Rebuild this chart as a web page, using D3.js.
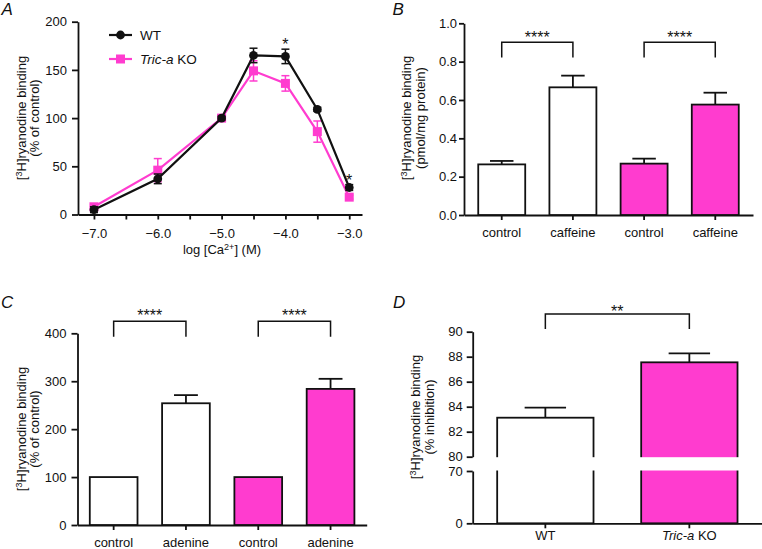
<!DOCTYPE html>
<html><head><meta charset="utf-8">
<script src="https://cdn.jsdelivr.net/npm/d3@7"></script>
<style>
body{margin:0;background:#fff;}
svg{display:block;font-family:"Liberation Sans",Arial,Helvetica,sans-serif;}
</style></head><body>
<svg id="c" width="762" height="549"></svg>
<script>
// ---------- Panel A data ----------
const caConc = [-7, -6, -5, -4.5, -4, -3.5, -3];
const wtBinding = [5, 37, 100, 165, 164, 109, 28];
const wtErr = [3, 5, 2, 7.5, 7.5, 2, 3];
const koBinding = [8, 46, 100, 149, 136, 86, 18];
const koErr = [2, 12, 3, 10.5, 8, 11, 2];
const aXTicks = [-7, -6.5, -6, -5.5, -5, -4.5, -4, -3.5, -3];
const aXLabelled = [-7, -6, -5, -4, -3];
const aYTicks = [0, 50, 100, 150, 200];
const aSigX = [-4, -3];
const seriesNames = ["WT", "Tric-a KO"];

// ---------- Panel B data ----------
const bCats = ["control", "caffeine", "control", "caffeine"];
const bGroup = ["WT", "WT", "KO", "KO"];
const bValues = [0.264, 0.666, 0.268, 0.576];
const bErr = [0.018, 0.061, 0.026, 0.062];
const bYTicks = [0, 0.2, 0.4, 0.6, 0.8, 1.0];
const bSig = [[0, 1, "****"], [2, 3, "****"]];

// ---------- Panel C data ----------
const cCats = ["control", "adenine", "control", "adenine"];
const cGroup = ["WT", "WT", "KO", "KO"];
const cValues = [100, 254, 100, 284];
const cErr = [0, 17, 0, 21];
const cYTicks = [0, 100, 200, 300, 400];
const cSig = [[0, 1, "****"], [2, 3, "****"]];

// ---------- Panel D data ----------
const dCats = ["WT", "Tric-a KO"];
const dGroup = ["WT", "KO"];
const dValues = [83.12, 87.55];
const dErr = [0.8, 0.72];
const dYTicksUpper = [80, 82, 84, 86, 88, 90];
const dYTicksLower = [0, 70];
const dSig = [[0, 1, "**"]];

const PINK = "#ff3ccf";
const INK = "#111";
const SW = 1.8;
const FS = 13;
const STAR_FS = 16;

const svg = d3.select("#c");

function styleAxis(g) {
  g.selectAll("path.domain").attr("stroke", INK).attr("stroke-width", SW);
  g.selectAll(".tick line").attr("stroke", INK).attr("stroke-width", SW);
  g.selectAll(".tick text").attr("fill", INK).style("font-size", FS + "px")
    .style("font-family", '"Liberation Sans",Arial,sans-serif');
}

function yLabel(g, x1, x2, cy, line2) {
  const t1 = g.append("text").attr("transform", `translate(${x1},${cy}) rotate(-90)`)
    .attr("text-anchor", "middle").attr("fill", INK).style("font-size", FS + "px");
  t1.append("tspan").text("[");
  t1.append("tspan").text("3").attr("dy", -4.5).style("font-size", "9px");
  t1.append("tspan").text("H]ryanodine binding").attr("dy", 4.5);
  g.append("text").attr("transform", `translate(${x2},${cy}) rotate(-90)`)
    .attr("text-anchor", "middle").attr("fill", INK).style("font-size", FS + "px").text(line2);
}

function panelLetter(x, y, s) {
  svg.append("text").attr("x", x).attr("y", y).text(s)
    .style("font-size", "17px").style("font-style", "italic").attr("fill", INK);
}

function italicTric(sel) {
  sel.each(function () {
    const t = d3.select(this);
    const s = t.text();
    if (s.indexOf("Tric-a") === 0) {
      t.text("");
      t.append("tspan").text("Tric-a").style("font-style", "italic");
      t.append("tspan").text(s.slice(6));
    }
  });
}

// ================= Panel A =================
(function () {
  const g = svg.append("g");
  const x = d3.scaleLinear().domain([-7.25, -2.8]).range([78, 362]);
  const y = d3.scaleLinear().domain([0, 200]).range([214.5, 21.7]);

  const gx = g.append("g").attr("transform", "translate(0,214.5)")
    .call(d3.axisBottom(x).tickValues(aXTicks).tickSize(5).tickPadding(9).tickSizeOuter(0)
      .tickFormat(d => aXLabelled.includes(d) ? d3.format(".1f")(d) : ""));
  styleAxis(gx);
  const gy = g.append("g").attr("transform", "translate(78,0)")
    .call(d3.axisLeft(y).tickValues(aYTicks).tickSize(6).tickPadding(5).tickSizeOuter(0));
  styleAxis(gy);

  yLabel(g, 26, 39, 118, "(% of control)");
  const xl = g.append("text").attr("x", 222).attr("y", 254).attr("text-anchor", "middle")
    .attr("fill", INK).style("font-size", FS + "px");
  xl.append("tspan").text("log [Ca");
  xl.append("tspan").text("2+").attr("dy", -4.5).style("font-size", "9px");
  xl.append("tspan").text("] (M)").attr("dy", 4.5);

  const series = [
    {name: seriesNames[1], vals: koBinding, err: koErr, color: PINK, shape: "square"},
    {name: seriesNames[0], vals: wtBinding, err: wtErr, color: INK, shape: "circle"}
  ];
  const line = d3.line().x(d => x(d[0])).y(d => y(d[1]));
  series.forEach(s => {
    const pts = caConc.map((c, i) => [c, s.vals[i], s.err[i]]);
    const eg = g.append("g").attr("stroke", s.color).attr("stroke-width", 1.5);
    pts.forEach(p => {
      eg.append("line").attr("x1", x(p[0])).attr("x2", x(p[0]))
        .attr("y1", y(p[1] - p[2])).attr("y2", y(p[1] + p[2]));
      [p[1] - p[2], p[1] + p[2]].forEach(v => eg.append("line")
        .attr("x1", x(p[0]) - 4).attr("x2", x(p[0]) + 4).attr("y1", y(v)).attr("y2", y(v)));
    });
    g.append("path").datum(pts).attr("d", line).attr("fill", "none")
      .attr("stroke", s.color).attr("stroke-width", 2.2);
    if (s.shape === "circle") {
      g.selectAll(null).data(pts).enter().append("circle")
        .attr("cx", d => x(d[0])).attr("cy", d => y(d[1])).attr("r", 4.4).attr("fill", s.color);
    } else {
      g.selectAll(null).data(pts).enter().append("rect")
        .attr("x", d => x(d[0]) - 4.5).attr("y", d => y(d[1]) - 4.5)
        .attr("width", 9).attr("height", 9).attr("fill", s.color);
    }
  });
  // significance
  aSigX.forEach(c => {
    const k = caConc.indexOf(c);
    const v = wtBinding[k] + wtErr[k];
    g.append("text").attr("x", x(c)).attr("y", y(v) + 1).attr("text-anchor", "middle")
      .style("font-size", STAR_FS + "px").attr("fill", INK).text("*");
  });
  // legend
  const lg = g.append("g");
  [[seriesNames[0], INK, "circle", 35], [seriesNames[1], PINK, "square", 59]].forEach(([n, col, sh, ly]) => {
    lg.append("line").attr("x1", 109).attr("x2", 132).attr("y1", ly).attr("y2", ly)
      .attr("stroke", col).attr("stroke-width", 2.2);
    if (sh === "circle") lg.append("circle").attr("cx", 120.5).attr("cy", ly).attr("r", 4.4).attr("fill", col);
    else lg.append("rect").attr("x", 116).attr("y", ly - 4.5).attr("width", 9).attr("height", 9).attr("fill", col);
    const t = lg.append("text").attr("x", 140).attr("y", ly + 5).style("font-size", "13.5px").attr("fill", INK).text(n);
    italicTric(t);
  });
  panelLetter(1.5, 15, "A");
})();

// ============ Bar panel helper ============
function barPanel(opt) {
  const g = svg.append("g");
  const idx = opt.cats.map((c, i) => i);
  const x = d3.scaleBand().domain(idx).range(opt.xr).paddingInner(opt.pi).paddingOuter(opt.po);
  const bw = x.bandwidth();
  const gx = g.append("g").attr("transform", `translate(0,${opt.x0})`)
    .call(d3.axisBottom(x).tickSize(5).tickPadding(opt.xpad).tickSizeOuter(0).tickFormat(i => opt.cats[i]));
  styleAxis(gx);
  italicTric(gx.selectAll(".tick text"));
  return {g, x, bw};
}

function drawBars(g, x, bw, y, vals, errs, groups, capFrac, baseY) {
  vals.forEach((val, i) => {
    const cx = x(i) + bw / 2;
    if (errs[i] > 0) {
      g.append("line").attr("x1", cx).attr("x2", cx).attr("y1", y(val)).attr("y2", y(val + errs[i]))
        .attr("stroke", INK).attr("stroke-width", SW);
      g.append("line").attr("x1", cx - bw * capFrac / 2).attr("x2", cx + bw * capFrac / 2)
        .attr("y1", y(val + errs[i])).attr("y2", y(val + errs[i]))
        .attr("stroke", INK).attr("stroke-width", SW);
    }
    g.append("rect").attr("x", x(i)).attr("width", bw)
      .attr("y", y(val)).attr("height", baseY - y(val))
      .attr("fill", groups[i] === "KO" ? PINK : "#fff").attr("stroke", INK).attr("stroke-width", SW);
  });
}

function drawSig(g, x, bw, sig, topY, legY, starY) {
  sig.forEach(([a, b, s]) => {
    const xa = x(a) + bw / 2, xb = x(b) + bw / 2;
    g.append("path").attr("d", `M${xa},${legY}V${topY}H${xb}V${legY}`)
      .attr("fill", "none").attr("stroke", INK).attr("stroke-width", 1.5);
    g.append("text").attr("x", (xa + xb) / 2).attr("y", starY).attr("text-anchor", "middle")
      .style("font-size", STAR_FS + "px").attr("fill", INK).text(s);
  });
}

// ================= Panel B =================
(function () {
  const {g, x, bw} = barPanel({cats: bCats, xr: [464, 753], pi: 0.34, po: 0.2, x0: 215, xpad: 8});
  const y = d3.scaleLinear().domain([0, 1]).range([215, 23.3]);
  drawBars(g, x, bw, y, bValues, bErr, bGroup, 0.5, 215);
  const gy = g.append("g").attr("transform", "translate(464,0)")
    .call(d3.axisLeft(y).tickValues(bYTicks).tickFormat(d3.format(".1f")).tickSize(5).tickPadding(2).tickSizeOuter(0));
  styleAxis(gy);
  yLabel(g, 411, 425, 118, "(pmol/mg protein)");
  drawSig(g, x, bw, bSig, 42.3, 57.5, 42.6);
  panelLetter(392.5, 15, "B");
})();

// ================= Panel C =================
(function () {
  const {g, x, bw} = barPanel({cats: cCats, xr: [77.5, 366.7], pi: 0.34, po: 0.17, x0: 525, xpad: 8});
  const y = d3.scaleLinear().domain([0, 400]).range([525, 333.3]);
  drawBars(g, x, bw, y, cValues, cErr, cGroup, 0.5, 525);
  const gy = g.append("g").attr("transform", "translate(77.5,0)")
    .call(d3.axisLeft(y).tickValues(cYTicks).tickSize(6).tickPadding(5).tickSizeOuter(0));
  styleAxis(gy);
  yLabel(g, 26, 39, 429, "(% of control)");
  drawSig(g, x, bw, cSig, 321.3, 336.7, 321);
  panelLetter(1, 307.5, "C");
})();

// ================= Panel D =================
(function () {
  const {g, x, bw} = barPanel({cats: dCats, xr: [472.7, 762], pi: 0.331, po: 0.17, x0: 523.3, xpad: 2});
  const yU = d3.scaleLinear().domain([80, 90]).range([456.7, 331.7]);
  const yL = d3.scaleLinear().domain([0, 70]).range([523.3, 471]);
  drawBars(g, x, bw, yU, dValues, dErr, dGroup, 0.43, 523.3);
  // axis break gap across bars
  dValues.forEach((v, i) => {
    g.append("rect").attr("x", x(i) - 2).attr("width", bw + 4)
      .attr("y", yU(80) + 0.5).attr("height", yL(70) - yU(80) - 1).attr("fill", "#fff");
  });
  const gu = g.append("g").attr("transform", "translate(472.7,0)")
    .call(d3.axisLeft(yU).tickValues(dYTicksUpper).tickSize(6).tickPadding(4).tickSizeOuter(0));
  styleAxis(gu);
  const gl = g.append("g").attr("transform", "translate(472.7,0)")
    .call(d3.axisLeft(yL).tickValues(dYTicksLower).tickSize(6).tickPadding(4).tickSizeOuter(0));
  styleAxis(gl);
  yLabel(g, 420, 434, 417, "(% inhibition)");
  drawSig(g, x, bw, dSig, 314, 329, 316.6);
  panelLetter(393, 308, "D");
})();
</script>
</body></html>
